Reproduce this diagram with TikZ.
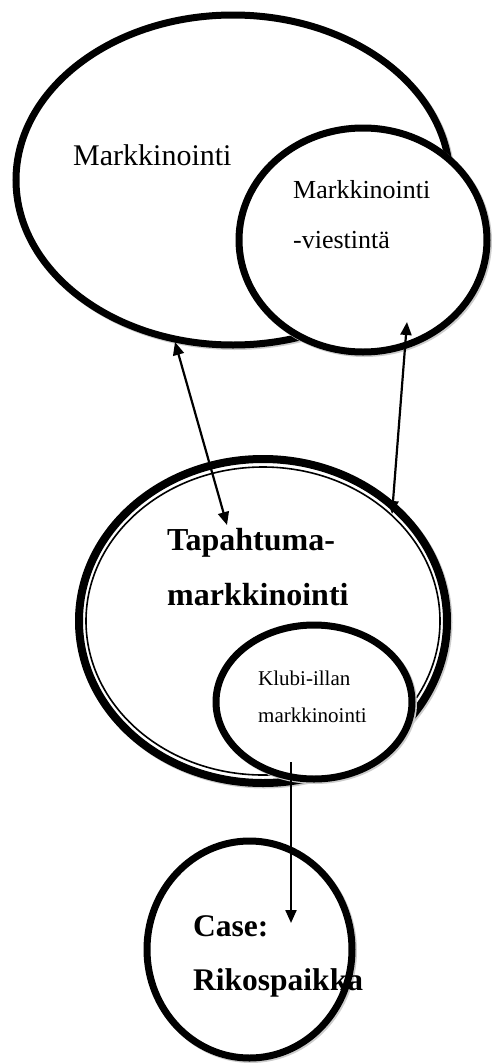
\documentclass[tikz,border=0pt]{standalone}
\usepackage{fontspec}
\setmainfont{Liberation Serif}
\usetikzlibrary{shapes.geometric,arrows.meta}
\tikzset{
  bubble/.style={ellipse, draw, line width=#1, fill=white, inner sep=0pt,
                 preaction={draw=gray!40, line width=#1,
                            transform canvas={shift={(1.5pt,-1.5pt)}}}},
  bubble/.default=7pt,
  txt/.style={anchor=base west, inner sep=0pt, font=\fontsize{#1}{#1}\selectfont},
  boldtxt/.style={txt=#1, font=\fontsize{#1}{#1}\selectfont\bfseries},
  link/.style={line width=2.2pt, {Triangle[length=13pt,width=11pt]}-{Triangle[length=13pt,width=11pt]}},
  onelink/.style={line width=2.2pt, -{Triangle[length=13pt,width=11pt]}},
}

\begin{document}
\begin{tikzpicture}[x=1pt, y=-1pt]
    \useasboundingbox (0,0) rectangle (491,1063);
    % markkinointi ja viestinta
    \node[bubble, minimum width=434pt, minimum height=330pt] (mark) at (233,180) {};
    \node[bubble, minimum width=248pt, minimum height=224pt] (viest) at (363,240) {};
    \node[txt=30] (marktxt) at (73,165) {Markkinointi};
    \node[txt=26] (viesttxt1) at (293,198) {Markkinointi};
    \node[txt=26] (viesttxt2) at (293,248) {-viestintä};
    % tapahtumamarkkinointi (double line)
    \node[bubble=8pt, minimum width=368pt, minimum height=324pt] (tap) at (263,621) {};
    \draw[line width=1.6pt] (tap.center) ellipse [x radius=177pt, y radius=154pt];
    \node[boldtxt=32] (taptxt1) at (167,550) {Tapahtuma-};
    \node[boldtxt=32] (taptxt2) at (167,605) {markkinointi};
    % klubi-ilta
    \node[bubble, minimum width=196pt, minimum height=154pt] (klubi) at (314,702) {};
    \node[txt=21] (klubitxt1) at (258,685) {Klubi-illan};
    \node[txt=21] (klubitxt2) at (258,722) {markkinointi};
    % case
    \node[bubble, minimum width=205pt, minimum height=217pt] (case) at (249.5,949.5) {};
    \node[boldtxt=31.5] (casetxt1) at (193,936) {Case:};
    \node[boldtxt=31.5] (casetxt2) at (193,990) {Rikospaikka};
    % arrows
    \coordinate (a1s) at (175,342);
    \coordinate (a1e) at (227,525);
    \coordinate (a2s) at (407,322);
    \coordinate (a2e) at (392,514);
    \coordinate (a3s) at (291,762);
    \coordinate (a3e) at (291,923);
    \draw[link] (a1s) -- (a1e);
    \draw[link] (a2s) -- (a2e);
    \draw[onelink] (a3s) -- (a3e);
  \end{tikzpicture}
\end{document}
